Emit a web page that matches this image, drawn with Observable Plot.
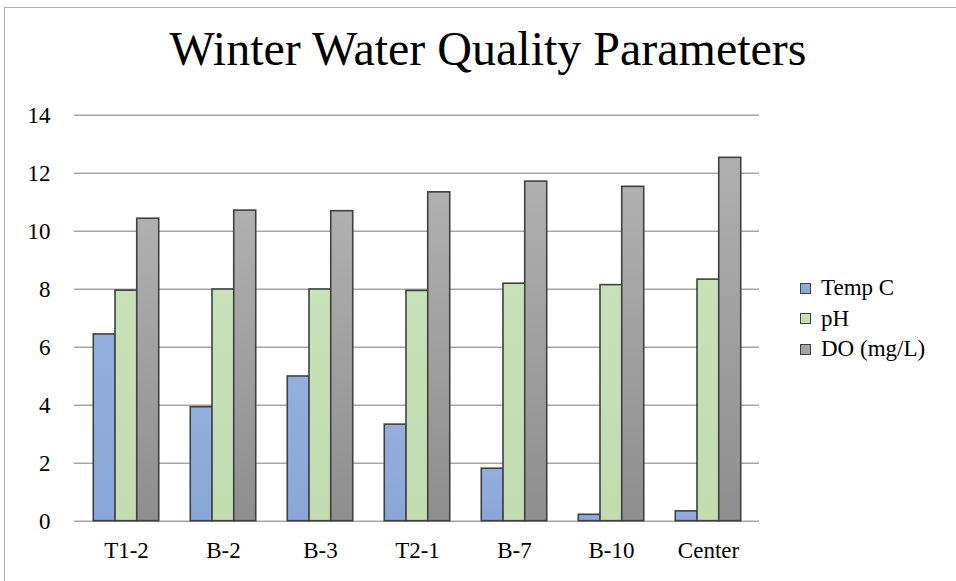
<!DOCTYPE html>
<html>
<head>
<meta charset="utf-8">
<script src="https://cdn.jsdelivr.net/npm/d3@7"></script>
<script src="https://cdn.jsdelivr.net/npm/@observablehq/plot@0.6"></script>
<style>
  html, body { margin: 0; padding: 0; background: #fff; }
  #wrap { position: relative; width: 956px; height: 581px; overflow: hidden; font-family: "Liberation Serif", "Times New Roman", serif; }
  #frame { position: absolute; left: 4px; top: 7px; width: 960px; height: 600px; border-top: 1px solid #b0b0b0; border-left: 1px solid #b0b0b0; }
  #title { position: absolute; left: 10px; width: 956px; top: 25px; text-align: center; font-size: 48px; color: #000; line-height: 1; white-space: nowrap; }
  #legend { position: absolute; left: 800px; top: 273px; font-size: 23px; color: #000; }
  .item { display: flex; align-items: center; height: 30.5px; }
  .sw { width: 9px; height: 9px; border: 1.5px solid #404040; margin-right: 10px; }
  #chart { position: absolute; left: 0; top: 0; }
  #chart svg text { font-family: "Liberation Serif", "Times New Roman", serif; font-size: 23px; fill: #000; }
</style>
</head>
<body>
<div id="wrap">
  <div id="frame"></div>
  <div id="chart"></div>
  <div id="title">Winter Water Quality Parameters</div>
  <div id="legend"></div>
</div>
<script>
const sites = ["T1-2", "B-2", "B-3", "T2-1", "B-7", "B-10", "Center"];
const tempC = [6.44, 3.93, 4.99, 3.33, 1.81, 0.22, 0.34];
const pH = [7.95, 7.99, 7.99, 7.94, 8.19, 8.14, 8.33];
const DO = [10.43, 10.71, 10.69, 11.34, 11.71, 11.53, 12.53];
const seriesNames = ["Temp C", "pH", "DO (mg/L)"];
const yTicks = [0, 2, 4, 6, 8, 10, 12, 14];

const rows = (vals) => sites.map((s, i) => ({site: s, value: vals[i]}));
const barW = 685 / 7 * (1 - 0.778);

const common = {x: "site", y: "value", stroke: "#404040", strokeWidth: 1.6};

const plot = Plot.plot({
  width: 956,
  height: 581,
  marginLeft: 74,
  marginRight: 197,
  marginTop: 114.7,
  marginBottom: 60.3,
  style: "font-family: 'Liberation Serif', 'Times New Roman', serif; font-size: 23px; color: #000; background: transparent;",
  x: {domain: sites, paddingInner: 0.778, paddingOuter: 0.389, label: null, tickSize: 0, tickPadding: 20},
  y: {domain: [0, 14], ticks: yTicks, label: null, tickSize: 0, tickPadding: 24},
  marks: [
    Plot.ruleY(yTicks, {stroke: "#a6a6a6", strokeWidth: 1.5}),
    Plot.ruleX([0], {frameAnchor: "left", y1: 0, y2: 14, stroke: "#a6a6a6", strokeWidth: 1.5}),
    Plot.barY(rows(tempC), {...common, fill: "url(#gradBlue)", dx: -barW}),
    Plot.barY(rows(pH), {...common, fill: "url(#gradGreen)", dx: 0}),
    Plot.barY(rows(DO), {...common, fill: "url(#gradGray)", dx: barW})
  ]
});

// gradients
const ns = "http://www.w3.org/2000/svg";
const defs = document.createElementNS(ns, "defs");
const grads = [
  ["gradBlue", "#94aede", "#8aa6d8"],
  ["gradGreen", "#c8e1b8", "#c2dcb0"],
  ["gradGray", "#b0b0b0", "#8e8e8e"]
];
for (const [id, c1, c2] of grads) {
  const g = document.createElementNS(ns, "linearGradient");
  g.setAttribute("id", id);
  g.setAttribute("x1", "0"); g.setAttribute("y1", "0");
  g.setAttribute("x2", "0"); g.setAttribute("y2", "1");
  const s1 = document.createElementNS(ns, "stop");
  s1.setAttribute("offset", "0"); s1.setAttribute("stop-color", c1);
  const s2 = document.createElementNS(ns, "stop");
  s2.setAttribute("offset", "1"); s2.setAttribute("stop-color", c2);
  g.appendChild(s1); g.appendChild(s2);
  defs.appendChild(g);
}
plot.insertBefore(defs, plot.firstChild);
document.getElementById("chart").appendChild(plot);

// legend
const legendColors = ["#8eaadb", "#c5e0b4", "#a5a5a5"];
const legend = document.getElementById("legend");
seriesNames.forEach((n, i) => {
  const it = document.createElement("div");
  it.className = "item";
  const sw = document.createElement("div");
  sw.className = "sw";
  sw.style.background = legendColors[i];
  const t = document.createElement("span");
  t.textContent = n;
  it.appendChild(sw); it.appendChild(t);
  legend.appendChild(it);
});
</script>
</body>
</html>
